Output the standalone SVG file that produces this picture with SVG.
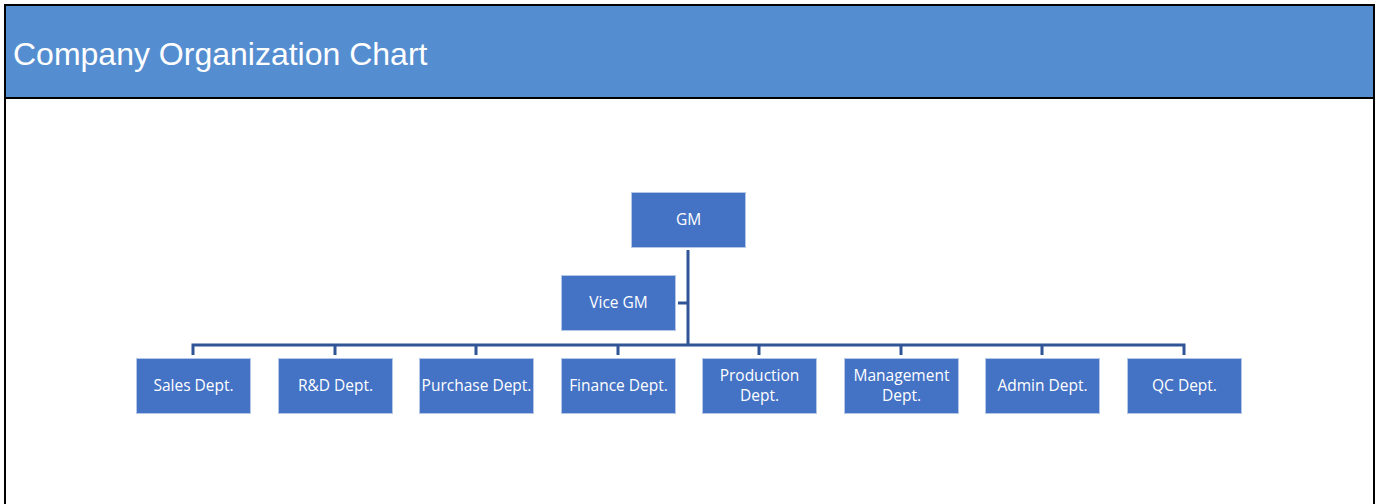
<svg xmlns="http://www.w3.org/2000/svg" width="1381" height="504" viewBox="0 0 1381 504">
<style>
.box{fill:#4472C4;stroke:#B4C7E7;stroke-width:1}
.lbl{fill:#FFFFFF;font-family:"Open Sans","Noto Sans",sans-serif;font-size:15.5px;text-anchor:middle}
.con{stroke:#2F5597;stroke-width:3;fill:none}
</style>
<rect x="0" y="0" width="1381" height="504" fill="#FFFFFF"/>
<g id="frame">
<rect x="5" y="5" width="1369" height="93" fill="#558ED0"/>
<rect x="5" y="5" width="1369" height="520" fill="none" stroke="#000000" stroke-width="2"/>
<line x1="5" y1="98" x2="1374" y2="98" stroke="#000000" stroke-width="2"/>
<text x="13" y="65" font-family="Liberation Sans, Arial, sans-serif" font-size="32" fill="#FFFFFF">Company Organization Chart</text>
</g>
<g id="connectors">
<path class="con" d="M688 250 V345"/>
<path class="con" d="M678 303 H688"/>
<path class="con" d="M193 355 V345 H1184 V355"/>
<path class="con" d="M335 345 V355 M476 345 V355 M618 345 V355 M759 345 V355 M901 345 V355 M1042 345 V355"/>
</g>
<g id="gm"><rect class="box" x="631.5" y="192.5" width="114" height="55"/><text class="lbl" x="688.5" y="225">GM</text></g>
<g id="vicegm"><rect class="box" x="561.5" y="275.5" width="114" height="55"/><text class="lbl" x="618.5" y="308">Vice GM</text></g>
<g id="sales"><rect class="box" x="136.5" y="358.5" width="114" height="55"/><text class="lbl" x="193.5" y="391">Sales Dept.</text></g>
<g id="rnd"><rect class="box" x="278.5" y="358.5" width="114" height="55"/><text class="lbl" x="335.5" y="391">R&amp;D Dept.</text></g>
<g id="purchase"><rect class="box" x="419.5" y="358.5" width="114" height="55"/><text class="lbl" x="476.5" y="391">Purchase Dept.</text></g>
<g id="finance"><rect class="box" x="561.5" y="358.5" width="114" height="55"/><text class="lbl" x="618.5" y="391">Finance Dept.</text></g>
<g id="production"><rect class="box" x="702.5" y="358.5" width="114" height="55"/><text class="lbl" x="759.5" y="381">Production</text><text class="lbl" x="759.5" y="401">Dept.</text></g>
<g id="management"><rect class="box" x="844.5" y="358.5" width="114" height="55"/><text class="lbl" x="901.5" y="381">Management</text><text class="lbl" x="901.5" y="401">Dept.</text></g>
<g id="admin"><rect class="box" x="985.5" y="358.5" width="114" height="55"/><text class="lbl" x="1042.5" y="391">Admin Dept.</text></g>
<g id="qc"><rect class="box" x="1127.5" y="358.5" width="114" height="55"/><text class="lbl" x="1184.5" y="391">QC Dept.</text></g>
</svg>
